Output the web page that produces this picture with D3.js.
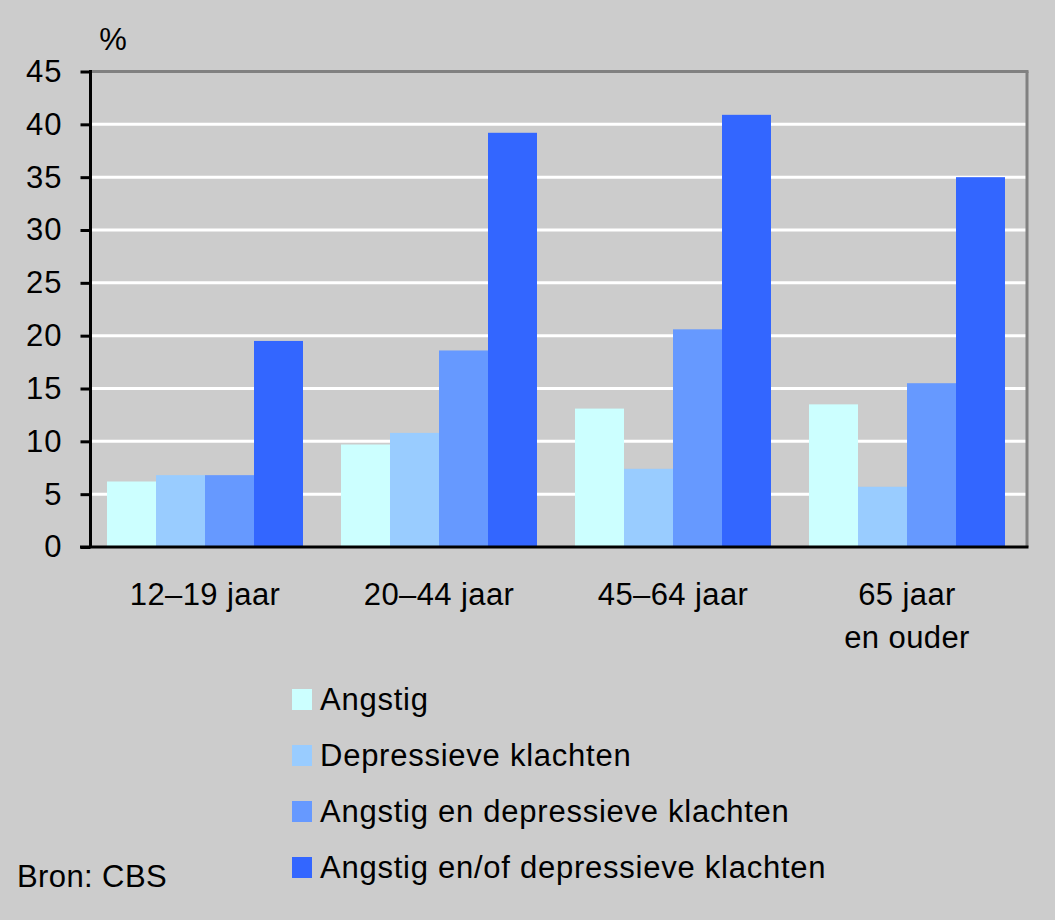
<!DOCTYPE html>
<html>
<head>
<meta charset="utf-8">
<script src="https://cdn.jsdelivr.net/npm/d3@7"></script>
<style>
  html, body { margin: 0; padding: 0; background: #cccccc; }
  svg { display: block; }
  text { font-family: Arial, "Liberation Sans", sans-serif; fill: #000; }
</style>
</head>
<body>
<script>
// ---- data ----
const categories = [["12–19 jaar"], ["20–44 jaar"], ["45–64 jaar"], ["65 jaar", "en ouder"]];
const categoryKeys = ["12–19", "20–44", "45–64", "65+"];
const seriesNames = ["Angstig", "Depressieve klachten", "Angstig en depressieve klachten", "Angstig en/of depressieve klachten"];
const seriesColors = ["#ccffff", "#99ccff", "#6699ff", "#3366ff"];
const angstig = [6.2, 9.7, 13.1, 13.5];
const depressief = [6.8, 10.8, 7.4, 5.7];
const angstigEnDepressief = [6.8, 18.6, 20.6, 15.5];
const angstigEnOfDepressief = [19.5, 39.2, 40.9, 35.0];
const seriesValues = [angstig, depressief, angstigEnDepressief, angstigEnOfDepressief];
const yTicks = [0, 5, 10, 15, 20, 25, 30, 35, 40, 45];
const yUnit = "%";
const source = "Bron: CBS";

// ---- layout ----
const W = 1055, H = 920;
const plotLeft = 90.5, plotRight = 1027, plotTop = 71.5, plotBottom = 547;
const FS = 31;

const svg = d3.select("body").append("svg").attr("width", W).attr("height", H);
svg.append("rect").attr("width", W).attr("height", H).attr("fill", "#cccccc");

const y = d3.scaleLinear().domain([0, 45]).range([plotBottom, plotTop]);
const x0 = d3.scaleBand().domain(categoryKeys).range([88, 1024]).paddingInner(0).paddingOuter(0);
const x1 = d3.scaleBand().domain(seriesNames).range([19, 215]).padding(0);

// gridlines
svg.append("g").selectAll("line").data(yTicks.filter(t => t > 0 && t < 45)).join("line")
  .attr("x1", plotLeft).attr("x2", plotRight)
  .attr("y1", d => y(d)).attr("y2", d => y(d))
  .attr("stroke", "#ffffff").attr("stroke-width", 3);

// top and right border
svg.append("line").attr("x1", plotLeft).attr("x2", plotRight + 1.5).attr("y1", plotTop).attr("y2", plotTop)
  .attr("stroke", "#808080").attr("stroke-width", 3);
svg.append("line").attr("x1", plotRight).attr("x2", plotRight).attr("y1", plotTop).attr("y2", plotBottom)
  .attr("stroke", "#808080").attr("stroke-width", 3);

// bars
const rows = categoryKeys.map((k, i) => ({ key: k, vals: seriesNames.map((s, j) => ({ s, j, v: seriesValues[j][i] })) }));
const groups = svg.append("g").selectAll("g").data(rows).join("g")
  .attr("transform", d => `translate(${x0(d.key)},0)`);
groups.selectAll("rect").data(d => d.vals).join("rect")
  .attr("x", d => x1(d.s))
  .attr("width", x1.bandwidth())
  .attr("y", d => y(d.v))
  .attr("height", d => y(0) - y(d.v))
  .attr("fill", d => seriesColors[d.j]);

// y axis
const yAxis = d3.axisLeft(y).tickValues(yTicks).tickSize(10).tickPadding(18).tickFormat(d3.format("d"));
const ya = svg.append("g").attr("transform", `translate(${plotLeft},0)`).call(yAxis);
ya.select(".domain").remove();
ya.selectAll(".tick line").attr("stroke", "#000").attr("stroke-width", 3);
ya.selectAll(".tick text").attr("font-size", FS).attr("letter-spacing", 1).attr("font-family", "Arial, 'Liberation Sans', sans-serif").attr("fill", "#000");
svg.append("line").attr("x1", plotLeft).attr("x2", plotLeft).attr("y1", plotTop - 1.5).attr("y2", plotBottom)
  .attr("stroke", "#000").attr("stroke-width", 3);
svg.append("line").attr("x1", 80).attr("x2", plotRight + 1.5).attr("y1", plotBottom).attr("y2", plotBottom)
  .attr("stroke", "#000").attr("stroke-width", 3);

svg.append("text").attr("x", 113).attr("y", 50).attr("text-anchor", "middle").attr("font-size", FS).text(yUnit);

// x labels
const xl = svg.append("g").selectAll("text").data(categories).join("text")
  .attr("text-anchor", "middle")
  .attr("font-size", FS)
  .attr("letter-spacing", 0.4)
  .attr("transform", (d, i) => `translate(${x0(categoryKeys[i]) + x0.bandwidth() / 2},605)`);
xl.selectAll("tspan").data(d => d).join("tspan")
  .attr("x", 0).attr("dy", (d, i) => i === 0 ? 0 : 43).text(d => d);

// legend
const lg = svg.append("g").selectAll("g").data(seriesNames).join("g")
  .attr("transform", (d, i) => `translate(292,${710 + i * 56})`);
lg.append("rect").attr("x", 0).attr("y", -21).attr("width", 20).attr("height", 21).attr("fill", (d, i) => seriesColors[i]);
lg.append("text").attr("x", 28).attr("y", 0).attr("font-size", FS).attr("letter-spacing", 0.75).text(d => d);

svg.append("text").attr("x", 17).attr("y", 887).attr("font-size", FS).attr("letter-spacing", 0.4).text(source);
</script>
</body>
</html>
